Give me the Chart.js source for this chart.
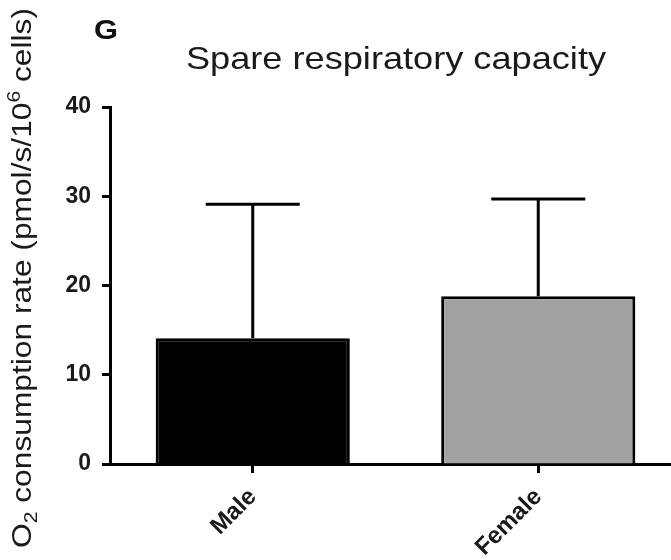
<!DOCTYPE html>
<html>
<head>
<meta charset="utf-8">
<script src="https://cdn.jsdelivr.net/npm/chart.js@4.4.1/dist/chart.umd.min.js"></script>
<style>
  html, body { margin: 0; padding: 0; background: #fff; overflow: hidden; }
  #wrap { width: 690px; height: 560px; }
</style>
</head>
<body>
<div id="wrap"><canvas id="c" width="690" height="560"></canvas></div>
<script>
// ---- data ----
const categories = ['Male', 'Female'];
const means = [14.1, 18.8];
const sdUpper = [15.0, 10.9];
const barColors = ['#000000', '#a2a1a6'];
const yTicks = [0, 10, 20, 30, 40];
const panelLabel = 'G';
const chartTitle = 'Spare respiratory capacity';
const yTitleParts = [
  { t: 'O', k: 'n' }, { t: '2', k: 'sub' },
  { t: ' consumption rate (pmol/s/10', k: 'n' }, { t: '6', k: 'sup' },
  { t: ' cells)', k: 'n' }
];

const FONT = '"Liberation Sans", Arial, sans-serif';

const errorBars = {
  id: 'errorBars',
  afterDatasetsDraw(chart) {
    const ctx = chart.ctx;
    const meta = chart.getDatasetMeta(0);
    const y = chart.scales.y;
    ctx.save();
    ctx.strokeStyle = '#000';
    ctx.lineWidth = 3;
    meta.data.forEach((bar, i) => {
      const top = y.getPixelForValue(means[i] + sdUpper[i]);
      const base = y.getPixelForValue(means[i]);
      const half = 47;
      ctx.beginPath();
      ctx.moveTo(bar.x, base);
      ctx.lineTo(bar.x, top);
      ctx.moveTo(bar.x - half, top);
      ctx.lineTo(bar.x + half, top);
      ctx.stroke();
    });
    ctx.restore();
  }
};

const texts = {
  id: 'texts',
  afterDraw(chart) {
    const ctx = chart.ctx;
    ctx.save();
    ctx.fillStyle = '#111';
    ctx.textBaseline = 'alphabetic';

    // panel letter
    ctx.save();
    ctx.font = 'bold 28px ' + FONT;
    ctx.translate(94, 39);
    ctx.scale(1.1, 1);
    ctx.textAlign = 'left';
    ctx.fillText(panelLabel, 0, 0);
    ctx.restore();

    // title
    ctx.save();
    ctx.font = '32px ' + FONT;
    ctx.translate(396, 69);
    ctx.scale(1.13, 1);
    ctx.textAlign = 'center';
    ctx.fillStyle = '#1a1a1a';
    ctx.fillText(chartTitle, 0, 0);
    ctx.restore();

    // rotated y title
    const nf = '500 27px ' + FONT;
    const sf = '500 18px ' + FONT;
    let total = 0;
    yTitleParts.forEach(p => { ctx.font = p.k === 'n' ? nf : sf; total += ctx.measureText(p.t).width; });
    ctx.translate(31, 278);
    ctx.rotate(-Math.PI / 2);
    ctx.scale(540 / total, 1);
    let x = -total / 2;
    ctx.textAlign = 'left';
    ctx.fillStyle = '#1a1a1a';
    yTitleParts.forEach(p => {
      ctx.font = p.k === 'n' ? nf : sf;
      const dy = p.k === 'sub' ? 6 : (p.k === 'sup' ? -11 : 0);
      ctx.fillText(p.t, x, dy);
      x += ctx.measureText(p.t).width;
    });
    ctx.restore();
  }
};

new Chart(document.getElementById('c'), {
  type: 'bar',
  data: {
    labels: categories,
    datasets: [{
      data: means,
      backgroundColor: barColors,
      borderColor: '#000',
      borderWidth: 3,
      categoryPercentage: 1,
      barPercentage: 0.68
    }]
  },
  options: {
    responsive: false,
    devicePixelRatio: 1,
    animation: false,
    layout: { padding: { top: 107, right: 9, left: 0, bottom: 0 } },
    plugins: { legend: { display: false }, tooltip: { enabled: false }, title: { display: false } },
    scales: {
      y: {
        min: 0, max: 40,
        afterBuildTicks: s => { s.ticks = yTicks.map(v => ({ value: v })); },
        afterFit: s => { s.width = 110; },
        ticks: { font: { family: FONT, size: 23, weight: 'bold' }, color: '#1a1a1a', padding: 11 },
        grid: { drawOnChartArea: false, drawTicks: true, tickLength: 8, tickWidth: 3, tickColor: '#000' },
        border: { color: '#000', width: 3 }
      },
      x: {
        afterFit: s => { s.height = 96; },
        ticks: { font: { family: FONT, size: 24, weight: 'bold' }, color: '#1a1a1a', maxRotation: 45, minRotation: 45, padding: 10 },
        grid: { offset: false, drawOnChartArea: false, drawTicks: true, tickLength: 9, tickWidth: 3, tickColor: '#000' },
        border: { color: '#000', width: 3 }
      }
    }
  },
  plugins: [errorBars, texts]
});
</script>
</body>
</html>
